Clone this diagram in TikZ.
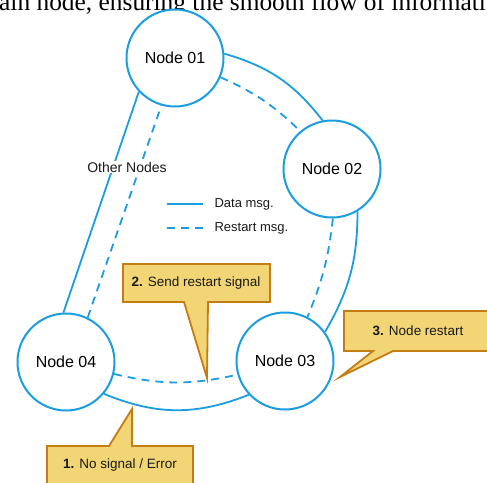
\documentclass[tikz,border=0pt]{standalone}
\usepackage{fontspec}
\setmainfont{Liberation Sans}
\newfontfamily\pageserif{Liberation Serif}
\usetikzlibrary{shapes,positioning}

\definecolor{linkblue}{RGB}{27,157,226}
\definecolor{noteyellow}{RGB}{242,214,117}
\definecolor{notebrown}{RGB}{196,124,20}

\tikzset{
	nodecirc/.style={circle,draw=linkblue,line width=2pt,fill=white,minimum size=97pt,inner sep=0pt,font=\fontsize{16}{19}\selectfont},
	datamsg/.style={draw=linkblue,line width=1.8pt},
	restartmsg/.style={draw=linkblue,line width=1.8pt,dash pattern=on 8pt off 6pt},
	callout/.style={fill=noteyellow,draw=notebrown,line width=1.8pt,line join=miter},
	calltext/.style={font=\fontsize{13.5}{16}\selectfont,text=black!90},
	legtext/.style={font=\fontsize{13}{15}\selectfont,text=black!90,anchor=west}
}

\begin{document}
\begin{tikzpicture}[x=1pt,y=-1pt]
		\useasboundingbox (0,0) rectangle (487,482);

		\begin{scope}
			\clip (0,0) rectangle (487,482);

			% page text above the picture
			\node[anchor=base west,inner sep=0pt,font=\pageserif\fontsize{25.4}{30}\selectfont] (pagetext) at (-1,10) {ain node, ensuring the smooth flow of informati};

			%---------------------
			% nodes
			%---------------------
			\node[nodecirc] (n1) at (175,58) {Node 01};
			\node[nodecirc] (n2) at (332,169) {Node 02};
			\node[nodecirc] (n3) at (285,361) {Node 03};
			\node[nodecirc] (n4) at (66,362) {Node 04};

			% data msg.
			\draw[datamsg] (n1.5) to[bend left=18] (n2.101);
			\draw[datamsg] (n2.-59) to[bend left=15] (n3.36);
			\draw[datamsg] (n4.-40) to[bend right=22] (n3.223);
			\draw[datamsg] (n4.93) -- (n1.223);

			% restart msg.
			\draw[restartmsg] (n1.-23) to[bend left=10] (n2.130);
			\draw[restartmsg] (n2.-89) to[bend left=8] (n3.63);
			\draw[restartmsg] (n4.-14) to[bend right=13] (n3.196);
			\draw[restartmsg] (n4.64) -- (n1.254);

			\node[fill=white,inner sep=1pt,font=\fontsize{14}{16}\selectfont,text=black!90] (others) at (127,167) {Other Nodes};

			%---------------------
			% legend
			%---------------------
			\coordinate (dataA) at (167,204);
			\node[legtext] (datalbl) at (211,204) {Data msg.};
			\draw[datamsg] (dataA) -- ++(36,0);
			\coordinate (restA) at (167,228);
			\node[legtext] (restlbl) at (211,228) {Restart msg.};
			\draw[restartmsg] (restA) -- ++(36,0);

			%---------------------
			% callouts
			%---------------------
			% 1
			\draw[callout] (47,446) -- (109,446) -- (132,409) -- (132,446) -- (193,446) -- (193,490) -- (47,490) -- cycle;
			\node[calltext] (note1) at (120,465) {\textbf{1.} No signal / Error};

			% 2
			\draw[callout] (123,264) -- (270,264) -- (270,302) -- (208,302) -- (207,378) -- (184,302) -- (123,302) -- cycle;
			\node[calltext] (note2) at (196,283) {\textbf{2.} Send restart signal};

			% 3
			\draw[callout] (344,311) -- (492,311) -- (492,351) -- (393,351) -- (340,377) -- (373,351) -- (344,351) -- cycle;
			\node[calltext] (note3) at (418,331) {\textbf{3.} Node restart};
		\end{scope}

		\end{tikzpicture}
\end{document}
